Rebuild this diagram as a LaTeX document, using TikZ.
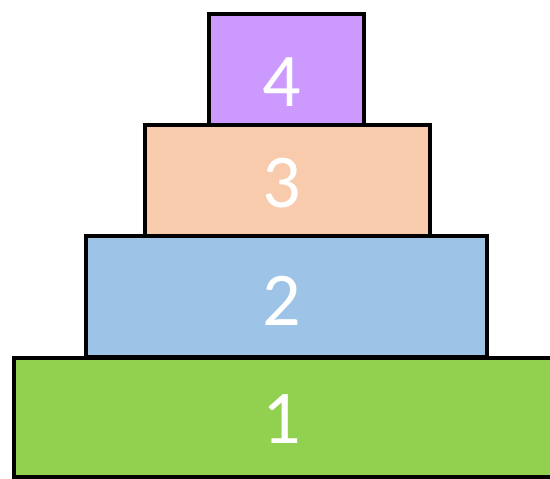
\documentclass[tikz,border=0pt]{standalone}
\usepackage{fontspec}
\newfontfamily\digitfont{Carlito}
\definecolor{cpurple}{HTML}{CC99FF}
\definecolor{cpeach}{HTML}{F8CBAD}
\definecolor{cblue}{HTML}{9DC3E6}
\definecolor{cgreen}{HTML}{92D050}
\begin{document}
\begin{tikzpicture}[x=1pt,y=-1pt,
  tier/.style={draw=black,line width=3.5pt,inner sep=0pt},
  lbl/.style={text=white,anchor=base,inner sep=0pt,font=\digitfont\fontsize{76}{76}\selectfont}]
\useasboundingbox (0,0) rectangle (550,479);
\begin{scope}
\clip (0,0) rectangle (550,479);
\fill[cgreen] (14,358) rectangle (600,477);
\draw[line width=3.5pt] (600,477) -- (14,477) -- (14,358) -- (600,358);
\node[lbl] (n1) at (282,443) {1};
\end{scope}
\fill[cblue] (86,236) rectangle (487,357);
\draw[tier] (86,236) rectangle (487,357);
\node[lbl] (n2) at (282,325) {2};
\fill[cpeach] (145,125) rectangle (430,236);
\draw[tier] (145,125) rectangle (430,236);
\node[lbl] (n3) at (282,207) {3};
\fill[cpurple] (209,14) rectangle (364,125);
\draw[tier] (209,14) rectangle (364,125);
\node[lbl] (n4) at (282,106) {4};
\end{tikzpicture}
\end{document}
